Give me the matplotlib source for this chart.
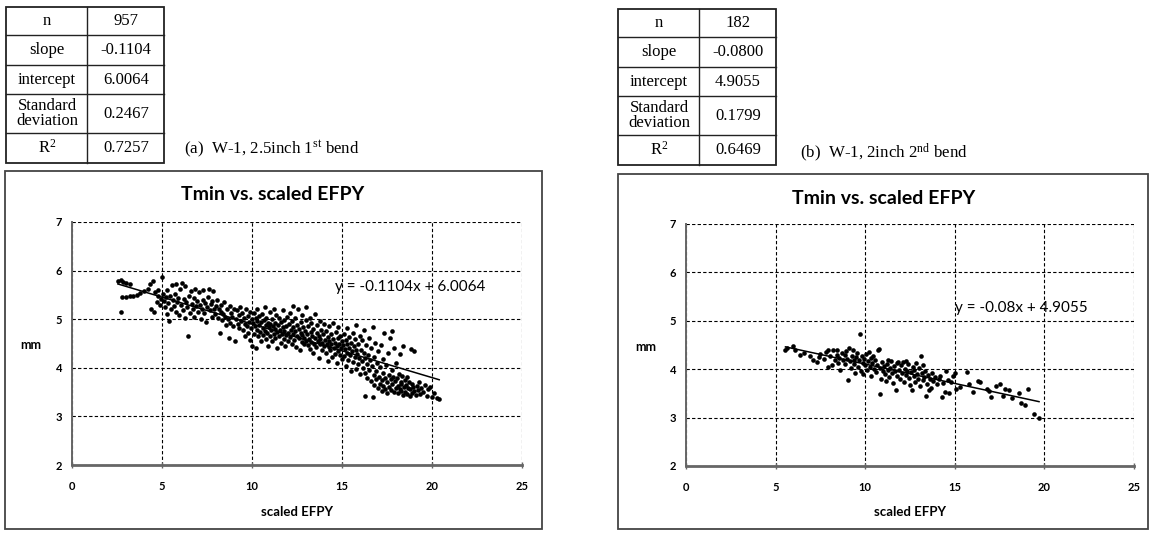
import numpy as np
import matplotlib.pyplot as plt
from matplotlib.patches import Rectangle

plt.rcParams['mathtext.fontset'] = 'custom'
plt.rcParams['mathtext.rm'] = 'Liberation Serif'
plt.rcParams['mathtext.it'] = 'Liberation Serif:italic'

SANS = ['Lato', 'DejaVu Sans']
SERIF = ['Liberation Serif', 'DejaVu Serif']

# regression tables
stat_names = ["n", "slope", "intercept", "Standard\ndeviation", "R$^2$"]
stats_a = ["957", "-0.1104", "6.0064", "0.2467", "0.7257"]
stats_b = ["182", "-0.0800", "4.9055", "0.1799", "0.6469"]
caption_a = r"(a)  W-1, 2.5inch 1$^{\mathrm{st}}$ bend"
caption_b = r"(b)  W-1, 2inch 2$^{\mathrm{nd}}$ bend"
slope_a, icpt_a = -0.1104, 6.0064
slope_b, icpt_b = -0.08, 4.9055
eq_a = "y = -0.1104x + 6.0064"
eq_b = "y = -0.08x + 4.9055"
chart_title = "Tmin vs. scaled EFPY"
x_ticks = [0, 5, 10, 15, 20, 25]
y_ticks = [2, 3, 4, 5, 6, 7]

# (scaled EFPY, Tmin mm), W-1 2.5inch 1st bend
points_a = [
    (2.55, 5.78), (2.7, 5.80), (2.85, 5.76), (3.0, 5.74), (3.2, 5.72), (2.8, 5.46), (3.0, 5.46),
    (3.2, 5.47), (3.4, 5.48), (3.6, 5.50), (3.8, 5.53), (4.0, 5.57), (4.2, 5.62), (2.7, 5.15),
    (4.35, 5.72), (4.5, 5.78), (4.4, 5.22), (4.55, 5.15), (4.7, 5.35), (4.8, 5.48), (4.6, 5.55),
    (4.9, 5.30), (5.0, 5.86), (4.75, 5.60), (4.95, 5.42),
    (5.05, 5.52), (5.1, 5.38), (5.15, 5.25), (5.2, 5.45), (5.25, 5.10), (5.3, 5.60), (5.35, 5.33),
    (5.4, 4.96), (5.45, 5.48), (5.5, 5.20), (5.55, 5.70), (5.6, 5.40), (5.65, 5.28), (5.7, 5.52),
    (5.75, 5.15), (5.8, 5.72), (5.85, 5.36), (5.9, 5.44), (5.95, 5.08), (6.0, 5.62),
    (6.05, 5.30), (6.1, 5.75), (6.15, 5.18), (6.2, 5.42), (6.25, 5.02), (6.3, 5.68), (6.35, 5.35),
    (6.4, 5.26), (6.45, 4.66), (6.5, 5.48), (6.55, 5.12), (6.6, 5.58), (6.65, 5.32), (6.7, 5.20),
    (6.75, 5.44), (6.8, 5.05), (6.85, 5.62), (6.9, 5.28), (6.95, 5.38), (7.0, 5.14),
    (7.05, 5.55), (7.1, 5.30), (7.15, 5.00), (7.2, 5.22), (7.25, 5.40), (7.3, 5.60), (7.35, 5.12),
    (7.4, 5.34), (7.45, 4.95), (7.5, 5.25), (7.55, 5.45), (7.6, 5.62), (7.65, 5.18), (7.7, 5.32),
    (7.75, 5.05), (7.8, 5.38), (7.85, 5.58), (7.9, 5.20), (7.95, 5.10), (8.0, 5.28),
    (8.05, 5.40), (8.1, 5.02), (8.15, 5.22), (8.2, 4.72), (8.25, 5.15), (8.3, 5.30), (8.35, 4.98),
    (8.4, 5.10), (8.45, 5.36), (8.5, 5.05), (8.55, 4.88), (8.6, 5.20), (8.65, 5.00), (8.7, 4.62),
    (8.75, 5.28), (8.8, 4.92), (8.85, 5.12), (8.9, 5.04), (8.95, 4.85), (9.0, 5.22), (9.05, 4.56),
    (9.1, 5.00), (9.15, 5.18), (9.2, 4.90),
    (9.25, 5.08), (9.3, 4.82), (9.35, 5.25), (9.4, 4.96), (9.45, 5.12), (9.5, 4.78), (9.55, 5.02),
    (9.6, 4.90), (9.65, 5.20), (9.7, 4.86), (9.75, 5.06), (9.8, 4.72), (9.85, 4.95), (9.9, 5.15),
    (9.95, 4.82), (10.0, 5.00), (10.0, 4.44), (9.6, 4.65), (9.9, 4.58),
    (10.05, 4.92), (10.1, 5.12), (10.1, 4.70), (10.15, 4.85), (10.2, 5.02), (10.2, 4.40),
    (10.25, 4.78), (10.3, 4.96), (10.3, 5.20), (10.35, 4.66), (10.4, 4.88), (10.4, 5.06),
    (10.45, 4.74), (10.5, 4.95), (10.5, 4.55), (10.55, 5.10), (10.6, 4.82), (10.6, 4.68),
    (10.65, 4.98), (10.7, 4.76), (10.7, 5.25), (10.75, 4.88), (10.8, 4.60), (10.8, 5.02),
    (10.85, 4.72), (10.9, 4.92), (10.9, 4.45), (10.95, 4.84), (11.0, 5.15), (11.0, 4.66), (11.0, 4.90),
    (11.05, 4.78), (11.1, 5.00), (11.1, 4.55), (11.15, 4.86), (11.2, 4.70), (11.2, 5.22),
    (11.25, 4.92), (11.3, 4.62), (11.3, 4.80), (11.35, 5.08), (11.4, 4.74), (11.4, 4.40),
    (11.45, 4.88), (11.5, 4.66), (11.5, 5.02), (11.55, 4.78), (11.6, 4.52), (11.6, 4.94),
    (11.65, 4.70), (11.7, 5.18), (11.7, 4.84), (11.75, 4.60), (11.8, 4.76), (11.8, 4.98),
    (11.85, 4.45), (11.9, 4.86), (11.9, 4.68), (11.95, 5.05), (12.0, 4.72), (12.0, 4.56),
    (12.05, 4.90), (12.1, 4.64), (12.1, 5.12), (12.15, 4.78), (12.2, 4.50), (12.2, 4.96),
    (12.25, 4.70), (12.3, 4.84), (12.3, 5.28), (12.35, 4.58), (12.4, 4.76), (12.4, 5.02),
    (12.45, 4.42), (12.5, 4.66), (12.5, 4.88), (12.55, 5.20), (12.6, 4.62), (12.6, 4.80),
    (12.65, 4.36), (12.7, 4.72), (12.7, 4.94), (12.75, 4.54), (12.8, 4.68), (12.8, 5.08),
    (12.85, 4.84), (12.9, 4.48), (12.9, 4.62), (12.95, 4.76), (13.0, 4.98), (13.0, 4.56), (13.0, 5.25),
    (13.05, 4.70), (13.1, 4.46), (13.1, 4.86), (13.15, 4.60), (13.2, 5.02), (13.2, 4.38),
    (13.25, 4.74), (13.3, 4.54), (13.3, 4.92), (13.35, 4.66), (13.4, 4.30), (13.4, 4.80),
    (13.45, 4.50), (13.5, 4.62), (13.5, 5.10), (13.55, 4.42), (13.6, 4.72), (13.6, 4.88),
    (13.65, 4.56), (13.7, 4.20), (13.7, 4.66), (13.75, 4.96), (13.8, 4.48), (13.8, 4.60),
    (13.85, 4.78), (13.9, 4.36), (13.9, 4.52), (13.95, 4.70), (14.0, 4.44), (14.0, 4.90),
    (14.05, 4.58), (14.1, 4.30), (14.1, 4.76), (14.15, 4.50), (14.2, 4.64), (14.2, 4.14),
    (14.25, 4.42), (14.3, 4.86), (14.3, 4.56), (14.35, 4.36), (14.4, 4.70), (14.4, 4.48),
    (14.45, 4.22), (14.5, 4.60), (14.5, 4.92), (14.55, 4.40), (14.6, 4.52), (14.6, 4.28),
    (14.65, 4.74), (14.7, 4.44), (14.7, 4.10), (14.75, 4.62), (14.8, 4.34), (14.8, 4.84),
    (14.85, 4.50), (14.9, 4.26), (14.9, 4.66), (14.95, 4.40), (15.0, 4.56), (15.0, 4.18),
    (15.05, 4.46), (15.1, 4.70), (15.1, 4.24), (15.15, 4.38), (15.2, 4.58), (15.2, 4.04),
    (15.25, 4.30), (15.3, 4.82), (15.3, 4.48), (15.35, 4.16), (15.4, 4.40), (15.4, 4.64),
    (15.45, 4.26), (15.5, 3.94), (15.5, 4.52), (15.55, 4.34), (15.6, 4.72), (15.6, 4.12),
    (15.65, 4.44), (15.7, 4.22), (15.7, 4.60), (15.75, 3.98), (15.8, 4.36), (15.8, 4.88),
    (15.85, 4.28), (15.9, 4.50), (15.9, 4.08), (15.95, 4.20), (16.0, 4.66), (16.0, 3.88),
    (16.05, 4.36), (16.1, 4.14), (16.1, 4.58), (16.15, 4.00), (16.2, 4.30), (16.2, 4.78),
    (16.25, 3.42), (16.3, 4.20), (16.3, 3.90), (16.35, 4.46), (16.4, 4.08), (16.4, 3.80),
    (16.45, 4.26), (16.5, 4.62), (16.5, 3.96), (16.55, 4.16), (16.6, 3.72), (16.6, 4.40),
    (16.65, 4.04), (16.7, 3.40), (16.7, 4.84), (16.75, 3.86), (16.8, 4.22), (16.8, 3.64),
    (16.85, 4.52), (16.9, 3.94), (16.9, 3.76), (16.95, 4.10), (17.0, 3.58), (17.0, 4.34),
    (17.05, 3.82), (17.1, 4.02), (17.1, 3.66), (17.15, 4.46), (17.2, 3.74), (17.2, 3.52),
    (17.25, 4.18), (17.3, 3.90), (17.3, 3.62), (17.35, 4.72), (17.4, 3.80), (17.4, 3.56),
    (17.45, 4.06), (17.5, 3.70), (17.5, 3.48), (17.55, 4.30), (17.6, 3.86), (17.6, 3.60),
    (17.65, 4.62), (17.7, 3.76), (17.7, 3.54), (17.75, 3.96), (17.8, 3.66), (17.8, 4.76),
    (17.85, 3.82), (17.9, 3.50), (17.9, 4.40), (17.95, 3.72), (18.0, 3.58), (18.0, 4.10),
    (18.05, 3.78), (18.1, 3.62), (18.1, 3.48), (18.15, 3.88), (18.2, 3.56), (18.2, 4.28),
    (18.25, 3.70), (18.3, 3.52), (18.3, 3.66), (18.35, 3.84), (18.4, 3.44), (18.4, 4.45),
    (18.45, 3.60), (18.5, 3.74), (18.5, 3.50), (18.55, 3.64), (18.6, 3.46), (18.6, 3.82),
    (18.65, 3.58), (18.7, 3.70), (18.75, 3.42), (18.8, 3.56), (18.85, 4.38), (18.9, 3.66),
    (18.9, 3.48), (18.95, 3.60), (19.0, 4.34), (19.0, 3.52),
    (19.1, 3.44), (19.15, 3.62), (19.2, 3.54), (19.3, 3.70), (19.35, 3.46), (19.4, 3.58),
    (19.5, 3.50), (19.6, 3.64), (19.7, 3.42), (19.8, 3.56), (19.9, 3.60), (20.0, 3.40),
    (20.1, 3.48), (20.3, 3.38), (20.4, 3.36),
]

# W-1 2inch 2nd bend
points_b = [
    (5.55, 4.40), (5.65, 4.44), (5.98, 4.48), (6.1, 4.40), (6.35, 4.30), (6.6, 4.34), (6.9, 4.28),
    (7.1, 4.20), (7.3, 4.14), (7.4, 4.25), (7.5, 4.32),
    (7.7, 4.22), (7.8, 4.36), (7.9, 4.04), (7.95, 4.40), (8.05, 4.28), (8.15, 4.08), (8.2, 4.40),
    (8.3, 4.18), (8.4, 4.30), (8.45, 4.40), (8.5, 4.12), (8.55, 4.24), (8.6, 3.98), (8.7, 4.34),
    (8.75, 4.20), (8.85, 4.10), (8.9, 4.30), (8.95, 4.38), (9.0, 4.22), (9.05, 3.78), (9.1, 4.44),
    (9.15, 4.16), (9.2, 4.02), (9.25, 4.28),
    (9.3, 4.40), (9.35, 4.20), (9.4, 4.10), (9.45, 3.92), (9.5, 4.26), (9.55, 4.34), (9.6, 4.05),
    (9.65, 4.18), (9.7, 4.72), (9.75, 3.96), (9.8, 4.28), (9.85, 4.12), (9.9, 3.90), (9.95, 4.22),
    (10.0, 4.08), (10.05, 4.32), (10.1, 3.98), (10.15, 4.16), (10.2, 4.36), (10.25, 4.04),
    (10.3, 4.24), (10.35, 3.86), (10.4, 4.12), (10.45, 4.28), (10.5, 4.00), (10.55, 4.18),
    (10.6, 3.94), (10.65, 4.08), (10.7, 4.40), (10.75, 4.42), (10.8, 3.48), (10.85, 4.02),
    (10.9, 3.80), (10.95, 4.14), (11.0, 3.96),
    (11.05, 4.06), (11.1, 3.90), (11.15, 3.76), (11.2, 4.10), (11.25, 3.98), (11.3, 4.18),
    (11.35, 3.84), (11.4, 4.02), (11.45, 4.16), (11.5, 3.92), (11.55, 3.72), (11.6, 4.06),
    (11.65, 3.96), (11.7, 3.58), (11.75, 4.12), (11.8, 3.86), (11.85, 4.14), (11.9, 3.98),
    (11.95, 3.80), (12.0, 4.08), (12.05, 3.92), (12.1, 4.14), (12.15, 3.74), (12.2, 4.00),
    (12.25, 4.16), (12.3, 3.88), (12.35, 3.96), (12.4, 4.10), (12.45, 3.82), (12.5, 3.68),
    (12.55, 3.94), (12.6, 3.58), (12.65, 4.04), (12.7, 3.86), (12.75, 3.98), (12.8, 3.74),
    (12.85, 4.12), (12.9, 3.90), (12.95, 3.80), (13.0, 4.02),
    (13.05, 3.66), (13.1, 4.28), (13.15, 3.92), (13.2, 3.78), (13.25, 4.08), (13.3, 3.84),
    (13.35, 3.96), (13.4, 3.44), (13.45, 3.70), (13.5, 3.88), (13.55, 3.56), (13.6, 3.80),
    (13.65, 3.62), (13.7, 3.92), (13.8, 3.76), (13.9, 3.84), (14.0, 3.70), (14.1, 3.80),
    (14.2, 3.86), (14.3, 3.42), (14.35, 3.72), (14.45, 3.52), (14.5, 3.96), (14.6, 3.78),
    (14.7, 3.50), (14.8, 3.74), (14.9, 3.86), (15.0, 3.92), (15.05, 3.60),
    (15.3, 3.64), (15.7, 3.94), (15.8, 3.70), (16.0, 3.52), (16.3, 3.76), (16.4, 3.74),
    (16.8, 3.60), (16.9, 3.54), (17.0, 3.42), (17.3, 3.66), (17.5, 3.70), (17.7, 3.44),
    (17.8, 3.60), (18.0, 3.56), (18.2, 3.40), (18.6, 3.50), (18.7, 3.30), (18.9, 3.26),
    (19.1, 3.60), (19.4, 3.08), (19.7, 3.00),
]

W, H = 1151, 533
fig = plt.figure(figsize=(W / 100, H / 100), dpi=100)

# overlay in pixel coords for the tables, captions and chart frames
ov = fig.add_axes([0, 0, 1, 1])
ov.set_xlim(0, W)
ov.set_ylim(H, 0)
ov.axis('off')


def draw_table(x0, y0, values):
    rows = [y0, y0 + 28, y0 + 58, y0 + 87, y0 + 126, y0 + 156]
    ov.add_patch(Rectangle((x0, y0), 158, 156, fill=False, lw=1.3, ec='#222222'))
    ov.plot([x0 + 81, x0 + 81], [y0, y0 + 156], color='#222222', lw=1)
    for yb in rows[1:-1]:
        ov.plot([x0, x0 + 158], [yb, yb], color='#222222', lw=1)
    for i in range(5):
        yc = (rows[i] + rows[i + 1]) / 2
        ov.text(x0 + 41, yc, stat_names[i], ha='center', va='center', family=SERIF,
                fontsize=12, linespacing=0.9)
        ov.text(x0 + 120, yc, values[i], ha='center', va='center', family=SERIF, fontsize=12)


draw_table(6, 7, stats_a)
draw_table(618, 9, stats_b)
ov.text(184, 149, caption_a, ha='left', va='center', family=SERIF, fontsize=12.2)
ov.text(800, 153, caption_b, ha='left', va='center', family=SERIF, fontsize=12.2)

ov.add_patch(Rectangle((5, 171), 537, 358, fill=False, lw=1.3, ec='#444444'))
ov.add_patch(Rectangle((618, 174), 530, 355, fill=False, lw=1.3, ec='#444444'))


def draw_chart(rect, pts, slope, icpt, eq, eq_xy):
    pts = np.array(pts)
    ax = fig.add_axes(rect)
    ax.patch.set_alpha(0)
    ax.scatter(pts[:, 0], pts[:, 1], s=11, c='black', marker='o', lw=0, zorder=3)
    xs = np.array([pts[:, 0].min(), pts[:, 0].max()])
    ax.plot(xs, slope * xs + icpt, color='black', lw=1.1, zorder=4)
    ax.set_xlim(0, 25)
    ax.set_ylim(2, 7)
    ax.set_xticks(x_ticks)
    ax.set_yticks(y_ticks)
    ax.grid(True, color='black', ls=(0, (3, 2)), lw=0.8)
    ax.set_axisbelow(True)
    for s in ['top', 'right']:
        ax.spines[s].set_visible(False)
    ax.spines['left'].set_color('#666666')
    ax.spines['left'].set_linewidth(1.4)
    ax.spines['bottom'].set_color('#666666')
    ax.spines['bottom'].set_linewidth(2)
    ax.tick_params(axis='x', direction='inout', length=5, width=1, color='#666666', pad=9)
    ax.tick_params(axis='y', length=0, pad=7)
    for lab in ax.get_xticklabels() + ax.get_yticklabels():
        lab.set_fontfamily(SANS)
        lab.set_fontweight('bold')
        lab.set_fontsize(8)
    ax.text(eq_xy[0], eq_xy[1], eq, ha='left', va='center', family=SANS, fontsize=11, zorder=5)
    return ax


def px_rect(x0, x1, ytop, ybot):
    return [x0 / W, (H - ybot) / H, (x1 - x0) / W, (ybot - ytop) / H]


draw_chart(px_rect(72, 522, 222, 465), points_a, slope_a, icpt_a, eq_a, (14.6, 5.66))
draw_chart(px_rect(686, 1134, 224, 466), points_b, slope_b, icpt_b, eq_b, (15.0, 5.26))

for cx, cy in [(273, 195), (884, 198)]:
    ov.text(cx, cy, chart_title, ha='center', va='center', family=SANS, fontweight='bold', fontsize=14)
for mx, my in [(31, 345), (646, 347)]:
    ov.text(mx, my, "mm", ha='center', va='center', family=SANS, fontweight='bold', fontsize=9)
for lx in [297, 910]:
    ov.text(lx, 512, "scaled EFPY", ha='center', va='center', family=SANS, fontweight='bold', fontsize=9.5)

fig.savefig("out.png", dpi=100)
